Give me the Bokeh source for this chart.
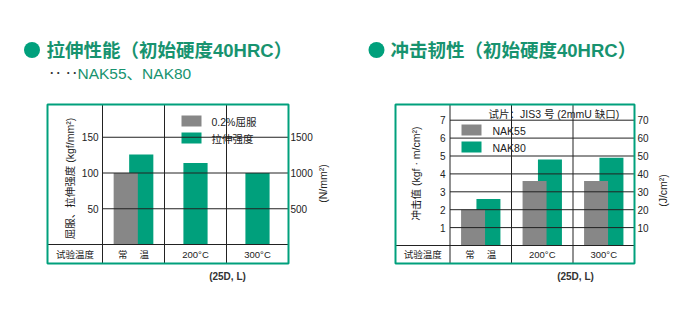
import math
from bokeh.plotting import figure
from bokeh.models import Range1d
from bokeh.layouts import row
from bokeh.core.properties import value
from bokeh.embed import file_html
from bokeh.resources import INLINE

# ---------------- data ----------------
temps = ["常\u3000 温", "200°C", "300°C"]
row_header = "试验温度"

# tensile properties (kgf/mm2), NAK55 / NAK80 at 40HRC
yield_02 = [100, None, None]
tensile_strength = [126, 114, 100]
tensile_ticks = [50, 100, 150]
tensile_ticks_si = [500, 1000, 1500]      # N/mm2
tensile_si_ratio = 10

# impact toughness (kgf·m/cm2)
nak55_impact = [2.0, 3.6, 3.6]
nak80_impact = [2.6, 4.8, 4.9]
impact_ticks = [1, 2, 3, 4, 5, 6, 7]
impact_ticks_si = [10, 20, 30, 40, 50, 60, 70]   # J/cm2
impact_si_ratio = 10

# ---------------- style ----------------
W, H = 341, 310
TEAL = "#00a07c"
TEAL_TXT = "#17936f"
GRAY = "#878787"
INK = "#222222"
FONT = value("Liberation Sans, Noto Sans CJK SC, sans-serif")
BAR_W = 0.39
OFF = 0.125


def panel(col_px, b_px, base_px, unit_px):
    x_start = 0.5 - b_px / col_px
    x_end = x_start + W / col_px
    y_end = base_px / unit_px
    y_start = y_end - H / unit_px
    p = figure(width=W, height=H, x_range=Range1d(x_start, x_end),
               y_range=Range1d(y_start, y_end), output_backend="svg",
               toolbar_location=None, x_axis_type=None, y_axis_type=None,
               min_border=0, outline_line_color=None)
    p.grid.visible = False
    p.background_fill_color = "white"
    p.border_fill_color = "white"
    X = lambda px: x_start + px / col_px
    Y = lambda py: y_end - py / unit_px
    return p, X, Y


def txt(p, x, y, s, size, color=INK, align="left", baseline="middle",
        angle=0.0, style="normal"):
    p.text(x=[x], y=[y], text=[s], text_font=FONT, text_font_size=value(size),
           text_color=color, text_align=align, text_baseline=baseline,
           angle=angle, text_font_style=style)


def chart(p, X, Y, fl, fr, ft, fb, ticks, ticks_si, ratio, lab_right_px,
          lab_si_px, ytitle, ytitle_pos, sititle, sititle_pos, cat_y_px,
          title, title_x, circle_x, note_x):
    n = len(temps)
    # gridlines
    p.segment(x0=[0.5] * len(ticks), x1=[n + 0.5] * len(ticks), y0=ticks,
              y1=ticks, line_color=INK, line_width=1)
    # frame internals
    p.segment(x0=[i + 0.5 for i in range(n)], x1=[i + 0.5 for i in range(n)],
              y0=[Y(fb)] * n, y1=[Y(ft)] * n, line_color=INK, line_width=1)
    p.segment(x0=[X(fl)], x1=[X(fr)], y0=[0], y1=[0], line_color=INK,
              line_width=1)
    # tick labels
    p.text(x=[X(lab_right_px)] * len(ticks), y=ticks,
           text=[str(t) for t in ticks], text_font=FONT,
           text_font_size=value("10px"), text_color=INK, text_align="right",
           text_baseline="middle")
    p.text(x=[X(lab_si_px)] * len(ticks_si), y=[t / ratio for t in ticks_si],
           text=[str(t) for t in ticks_si], text_font=FONT,
           text_font_size=value("10px"), text_color=INK, text_align="left",
           text_baseline="middle")
    # axis titles
    txt(p, X(ytitle_pos[0]), Y(ytitle_pos[1]), ytitle, "10.5px",
        align="center", angle=math.pi / 2)
    txt(p, X(sititle_pos[0]), Y(sititle_pos[1]), sititle, "10.5px",
        align="center", angle=math.pi / 2)
    # category row
    p.text(x=list(range(1, n + 1)), y=[Y(cat_y_px)] * n, text=temps,
           text_font=FONT, text_font_size=value("9.5px"), text_color=INK,
           text_align="center", text_baseline="middle")
    txt(p, (X(fl) + 0.5) / 2, Y(cat_y_px), row_header, "9.5px",
        align="center")
    # outer frame
    p.quad(left=[X(fl)], right=[X(fr)], bottom=[Y(fb)], top=[Y(ft)],
           fill_color=None, line_color=TEAL, line_width=2)
    # heading
    p.scatter(x=[X(circle_x)], y=[Y(49.5)], size=16, marker="circle",
              fill_color=TEAL, line_color=None)
    txt(p, X(title_x), Y(49.5), title, "18.5px", color=TEAL_TXT,
        style="bold")
    txt(p, X(note_x), Y(276), "(25D, L)", "10px", color="#333333",
        align="center", style="bold")


# ---------------- left: tensile ----------------
p1, X1, Y1 = panel(62.0, 102.0, 244.0, 0.715)
# legend backing (covers gridline)
p1.quad(left=[X1(177)], right=[X1(261)], bottom=[Y1(148)], top=[Y1(108)],
        fill_color="white", line_color=None)
xs_g, tops_g, xs_y, tops_y = [], [], [], []
for i, (yv, tv) in enumerate(zip(yield_02, tensile_strength)):
    c = i + 1
    if yv is None:
        xs_g.append(c)
    else:
        xs_g.append(c + OFF)
        xs_y.append(c - OFF)
        tops_y.append(yv)
    tops_g.append(tv)
p1.vbar(x=xs_g, top=tops_g, bottom=0, width=BAR_W, fill_color=TEAL,
        line_color=None)
p1.vbar(x=xs_y, top=tops_y, bottom=0, width=BAR_W, fill_color=GRAY,
        line_color=None)
# legend
p1.quad(left=[X1(181)], right=[X1(201)], top=[Y1(115)], bottom=[Y1(126)],
        fill_color=GRAY, line_color=None)
p1.quad(left=[X1(181)], right=[X1(201)], top=[Y1(132)], bottom=[Y1(143)],
        fill_color=TEAL, line_color=None)
txt(p1, X1(211), Y1(121), "0.2%屈服", "10.5px")
txt(p1, X1(211), Y1(138), "拉伸强度", "10.5px")
chart(p1, X1, Y1, 47, 288, 104, 263, tensile_ticks, tensile_ticks_si,
      tensile_si_ratio, 98, 290, "屈服、拉伸强度 (kgf/mm²)", (69, 178),
      "(N/mm²)", (322, 183), 254, "拉伸性能（初始硬度40HRC）", 46, 31.5, 227)
# subtitle
txt(p1, X1(48), Y1(73), "‥ ‥", "13px", color="#333333", style="bold")
txt(p1, X1(77), Y1(73), "NAK55、NAK80", "15.5px", color=TEAL_TXT)

# ---------------- right: impact ----------------
OX = 341
p2, X2r, Y2 = panel(61.5, 449.5 - OX, 245.0, 17.9)
X2 = lambda px: X2r(px - OX)
p2.quad(left=[X2(458)], right=[X2(527)], bottom=[Y2(152)], top=[Y2(122)],
        fill_color="white", line_color=None)
p2.quad(left=[X2(458)], right=[X2(613)], bottom=[Y2(122)], top=[Y2(106)],
        fill_color="white", line_color=None)
cats = list(range(1, len(temps) + 1))
p2.vbar(x=[c + OFF for c in cats], top=nak80_impact, bottom=0, width=BAR_W,
        fill_color=TEAL, line_color=None)
p2.vbar(x=[c - OFF for c in cats], top=nak55_impact, bottom=0, width=BAR_W,
        fill_color=GRAY, line_color=None)
p2.quad(left=[X2(461)], right=[X2(481)], top=[Y2(124)], bottom=[Y2(135)],
        fill_color=GRAY, line_color=None)
p2.quad(left=[X2(461)], right=[X2(481)], top=[Y2(141)], bottom=[Y2(152)],
        fill_color=TEAL, line_color=None)
txt(p2, X2(488), Y2(113), "试片：JIS3 号 (2mmU 缺口)", "10.5px")
txt(p2, X2(492), Y2(130), "NAK55", "10.5px")
txt(p2, X2(492), Y2(147), "NAK80", "10.5px")
chart(p2, X2, Y2, 395, 634, 104, 263, impact_ticks, impact_ticks_si,
      impact_si_ratio, 445, 637, "冲击值 (kgf · m/cm²)", (415, 173),
      "(J/cm²)", (662, 190), 254, "冲击韧性（初始硬度40HRC）", 390, 376, 575)

layout = row(p1, p2)
open("out.html", "w").write(file_html(layout, INLINE))
